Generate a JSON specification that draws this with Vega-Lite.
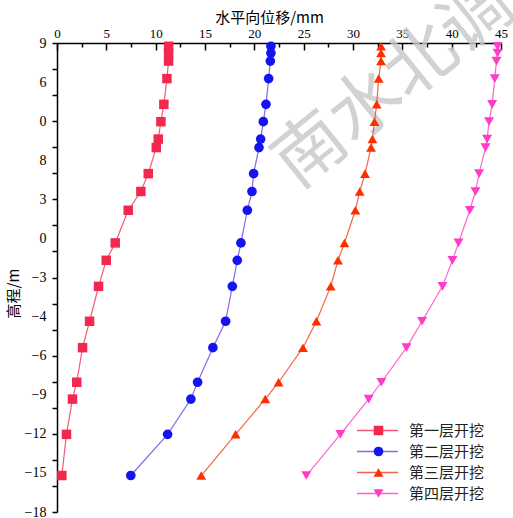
{
  "$schema": "https://vega.github.io/schema/vega-lite/v6.json",
  "width": 444,
  "height": 469,
  "autosize": {"type": "none"},
  "padding": {"left": 57, "top": 43, "right": 12, "bottom": 6},
  "background": "white",
  "config": {
    "view": {"stroke": null},
    "axis": {"grid": false, "domainColor": "#000", "tickColor": "#000", "labelColor": "#000", "titleColor": "#000", "labelFont": "Liberation Serif", "titleFont": "Noto Sans CJK SC", "titleFontWeight": "normal", "domainWidth": 1.5, "tickWidth": 1.5, "labelFlush": false, "labelOverlap": false}
  },
  "datasets": {
    "disp": [
      {"series": "第一层开挖", "elev": 8.81, "disp": 11.31},
      {"series": "第一层开挖", "elev": 8.42, "disp": 11.31},
      {"series": "第一层开挖", "elev": 7.96, "disp": 11.31},
      {"series": "第一层开挖", "elev": 6.95, "disp": 11.14},
      {"series": "第一层开挖", "elev": 5.47, "disp": 10.83},
      {"series": "第一层开挖", "elev": 4.47, "disp": 10.53},
      {"series": "第一层开挖", "elev": 3.47, "disp": 10.26},
      {"series": "第一层开挖", "elev": 2.98, "disp": 10.06},
      {"series": "第一层开挖", "elev": 1.48, "disp": 9.25},
      {"series": "第一层开挖", "elev": 0.45, "disp": 8.5},
      {"series": "第一层开挖", "elev": -0.63, "disp": 7.22},
      {"series": "第一层开挖", "elev": -2.51, "disp": 5.9},
      {"series": "第一层开挖", "elev": -3.51, "disp": 4.99},
      {"series": "第一层开挖", "elev": -5.01, "disp": 4.21},
      {"series": "第一层开挖", "elev": -7.02, "disp": 3.3},
      {"series": "第一层开挖", "elev": -8.54, "disp": 2.59},
      {"series": "第一层开挖", "elev": -10.53, "disp": 2.0},
      {"series": "第一层开挖", "elev": -11.5, "disp": 1.57},
      {"series": "第一层开挖", "elev": -13.53, "disp": 0.96},
      {"series": "第一层开挖", "elev": -15.9, "disp": 0.49},
      {"series": "第二层开挖", "elev": 8.81, "disp": 21.68},
      {"series": "第二层开挖", "elev": 8.42, "disp": 21.68},
      {"series": "第二层开挖", "elev": 7.96, "disp": 21.62},
      {"series": "第二层开挖", "elev": 6.95, "disp": 21.45},
      {"series": "第二层开挖", "elev": 5.47, "disp": 21.18},
      {"series": "第二层开挖", "elev": 4.47, "disp": 20.91},
      {"series": "第二层开挖", "elev": 3.47, "disp": 20.64},
      {"series": "第二层开挖", "elev": 2.98, "disp": 20.47},
      {"series": "第二层开挖", "elev": 1.48, "disp": 19.93},
      {"series": "第二层开挖", "elev": 0.45, "disp": 19.76},
      {"series": "第二层开挖", "elev": -0.63, "disp": 19.29},
      {"series": "第二层开挖", "elev": -2.51, "disp": 18.64},
      {"series": "第二层开挖", "elev": -3.51, "disp": 18.27},
      {"series": "第二层开挖", "elev": -5.01, "disp": 17.77},
      {"series": "第二层开挖", "elev": -7.02, "disp": 17.09},
      {"series": "第二层开挖", "elev": -8.54, "disp": 15.8},
      {"series": "第二层开挖", "elev": -10.53, "disp": 14.25},
      {"series": "第二层开挖", "elev": -11.5, "disp": 13.57},
      {"series": "第二层开挖", "elev": -13.53, "disp": 11.21},
      {"series": "第二层开挖", "elev": -15.9, "disp": 7.48},
      {"series": "第三层开挖", "elev": 8.81, "disp": 32.84},
      {"series": "第三层开挖", "elev": 8.42, "disp": 32.84},
      {"series": "第三层开挖", "elev": 7.96, "disp": 32.84},
      {"series": "第三层开挖", "elev": 6.95, "disp": 32.6},
      {"series": "第三层开挖", "elev": 5.47, "disp": 32.4},
      {"series": "第三层开挖", "elev": 4.47, "disp": 32.17},
      {"series": "第三层开挖", "elev": 3.47, "disp": 31.97},
      {"series": "第三层开挖", "elev": 2.98, "disp": 31.83},
      {"series": "第三层开挖", "elev": 1.48, "disp": 31.22},
      {"series": "第三层开挖", "elev": 0.45, "disp": 30.68},
      {"series": "第三层开挖", "elev": -0.63, "disp": 30.24},
      {"series": "第三层开挖", "elev": -2.51, "disp": 29.13},
      {"series": "第三层开挖", "elev": -3.51, "disp": 28.48},
      {"series": "第三层开挖", "elev": -5.01, "disp": 27.74},
      {"series": "第三层开挖", "elev": -7.02, "disp": 26.29},
      {"series": "第三层开挖", "elev": -8.54, "disp": 24.93},
      {"series": "第三层开挖", "elev": -10.53, "disp": 22.46},
      {"series": "第三层开挖", "elev": -11.5, "disp": 21.11},
      {"series": "第三层开挖", "elev": -13.53, "disp": 18.1},
      {"series": "第三层开挖", "elev": -15.9, "disp": 14.62},
      {"series": "第四层开挖", "elev": 8.81, "disp": 44.65},
      {"series": "第四层开挖", "elev": 8.42, "disp": 44.65},
      {"series": "第四层开挖", "elev": 7.96, "disp": 44.54},
      {"series": "第四层开挖", "elev": 6.95, "disp": 44.37},
      {"series": "第四层开挖", "elev": 5.47, "disp": 44.1},
      {"series": "第四层开挖", "elev": 4.47, "disp": 43.79},
      {"series": "第四层开挖", "elev": 3.47, "disp": 43.59},
      {"series": "第四层开挖", "elev": 2.98, "disp": 43.43},
      {"series": "第四层开挖", "elev": 1.48, "disp": 42.78},
      {"series": "第四层开挖", "elev": 0.45, "disp": 42.41},
      {"series": "第四层开挖", "elev": -0.63, "disp": 41.84},
      {"series": "第四层开挖", "elev": -2.51, "disp": 40.69},
      {"series": "第四层开挖", "elev": -3.51, "disp": 40.08},
      {"series": "第四层开挖", "elev": -5.01, "disp": 39.07},
      {"series": "第四层开挖", "elev": -7.02, "disp": 37.0},
      {"series": "第四层开挖", "elev": -8.54, "disp": 35.42},
      {"series": "第四层开挖", "elev": -10.53, "disp": 32.88},
      {"series": "第四层开挖", "elev": -11.5, "disp": 31.59},
      {"series": "第四层开挖", "elev": -13.53, "disp": 28.72},
      {"series": "第四层开挖", "elev": -15.9, "disp": 25.27}
    ],
    "watermark": [{"x": 34.2, "y": 6.6, "text": "南水北调"}]
  },
  "layer": [
    {
      "data": {"name": "watermark"},
      "mark": {"type": "text", "angle": -39, "fontSize": 71, "font": "Noto Sans CJK SC", "color": "#c8c8c8", "opacity": 0.8, "align": "center", "baseline": "middle"},
      "encoding": {
        "x": {"field": "x", "type": "quantitative", "axis": null, "scale": {"domain": [0, 45], "nice": false, "zero": false}},
        "y": {"field": "y", "type": "quantitative", "axis": null, "scale": {"domain": [-18, 9], "nice": false, "zero": false}},
        "text": {"field": "text"}
      }
    },
    {
      "data": {"name": "disp"},
      "mark": {"type": "line", "strokeWidth": 1.2, "opacity": 0.85},
      "encoding": {
        "x": {"field": "disp", "type": "quantitative", "scale": {"domain": [0, 45], "nice": false, "zero": false},
          "axis": {"orient": "top", "values": [0, 5, 10, 15, 20, 25, 30, 35, 40, 45], "tickSize": -7, "labelPadding": 10, "labelFontSize": 13, "format": "d", "title": "水平向位移/mm", "titleFontSize": 15, "titleX": 212, "titleY": -18, "titleBaseline": "bottom", "titleAlign": "center"}},
        "y": {"field": "elev", "type": "quantitative", "scale": {"domain": [-18, 9], "nice": false, "zero": false},
          "axis": {"orient": "left", "values": [9, 6.75, 4.5, 2.25, 0, -2.25, -4.5, -6.75, -9, -11.25, -13.5, -15.75, -18], "ticks": false, "labelPadding": 11, "labelFontSize": 14,
            "labelExpr": "['9','6','0','8','3','0','−3','−4','−6','−9','−12','−15','−18'][round((9 - datum.value) / 2.25)]",
            "title": "高程/m", "titleFontSize": 15, "titleX": -44, "titleY": 250, "titleAngle": -90, "titleAlign": "center", "titleBaseline": "middle"}},
        "stroke": {"field": "series", "type": "nominal", "sort": null,
          "scale": {"range": ["#F03C64", "#7050E8", "#F04A2A", "#FF48C8"]},
          "legend": {"title": null, "orient": "none", "legendX": 299, "legendY": 378, "padding": 0, "clipHeight": 19, "rowPadding": 2, "labelOffset": 10, "labelFont": "Noto Sans CJK SC", "labelFontSize": 15, "labelColor": "#222", "symbolType": "stroke", "symbolSize": 1681, "symbolStrokeWidth": 1.3, "symbolOpacity": 0.85}},
        "order": {"field": "elev", "type": "quantitative", "sort": "descending"}
      }
    },
    {
      "data": {"name": "disp"},
      "mark": {"type": "point", "filled": true, "opacity": 1, "strokeWidth": 0},
      "encoding": {
        "x": {"field": "disp", "type": "quantitative", "scale": {"domain": [0, 45], "nice": false, "zero": false},
          "axis": {"orient": "top", "values": [2.5, 7.5, 12.5, 17.5, 22.5, 27.5, 32.5, 37.5, 42.5], "labels": false, "tickSize": -4, "domain": false, "title": null}},
        "y": {"field": "elev", "type": "quantitative", "scale": {"domain": [-18, 9], "nice": false, "zero": false},
          "axis": {"orient": "left", "values": [-18, -16.5, -15, -13.5, -12, -10.5, -9, -7.5, -6, -4.5, -3, -1.5, 0, 1.5, 3, 4.5, 6, 7.5, 9], "labels": false, "tickSize": 5, "domain": false, "title": null}},
        "fill": {"field": "series", "type": "nominal",
          "scale": {"domain": ["第一层开挖", "第二层开挖", "第三层开挖", "第四层开挖"], "range": ["#F2284F", "#1414F0", "#FF2E00", "#FF3CC8"]},
          "legend": {"title": null, "orient": "none", "legendX": 299, "legendY": 378, "padding": 0, "clipHeight": 19, "rowPadding": 2, "labelOffset": 10, "labelFont": "Noto Sans CJK SC", "labelFontSize": 15, "labelExpr": "''", "symbolOffset": 15, "symbolStrokeWidth": 0, "symbolOpacity": 1}},
        "shape": {"field": "series", "type": "nominal",
          "scale": {"domain": ["第一层开挖", "第二层开挖", "第三层开挖", "第四层开挖"], "range": ["square", "circle", "triangle-up", "triangle-down"]},
          "legend": {"title": null, "orient": "none", "legendX": 299, "legendY": 378, "padding": 0, "clipHeight": 19, "rowPadding": 2, "labelOffset": 10, "labelFont": "Noto Sans CJK SC", "labelFontSize": 15, "labelExpr": "''", "symbolOffset": 15, "symbolStrokeWidth": 0, "symbolOpacity": 1}},
        "size": {"field": "series", "type": "nominal",
          "scale": {"domain": ["第一层开挖", "第二层开挖", "第三层开挖", "第四层开挖"], "range": [90, 100, 150, 150]},
          "legend": {"title": null, "orient": "none", "legendX": 299, "legendY": 378, "padding": 0, "clipHeight": 19, "rowPadding": 2, "labelOffset": 10, "labelFont": "Noto Sans CJK SC", "labelFontSize": 15, "labelExpr": "''", "symbolOffset": 15, "symbolStrokeWidth": 0, "symbolOpacity": 1}}
      }
    }
  ],
  "resolve": {"axis": {"x": "independent", "y": "independent"}}
}
